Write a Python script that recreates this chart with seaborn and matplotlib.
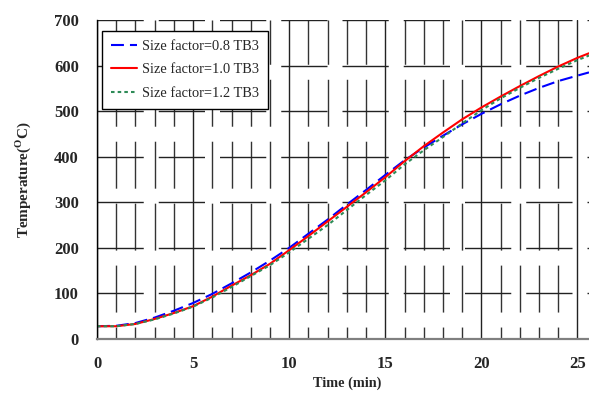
import matplotlib
matplotlib.use("Agg")
import matplotlib.pyplot as plt
import seaborn as sns
import pandas as pd
from matplotlib.ticker import MultipleLocator

# ---- data ----
time_min = [0, 1, 2, 3, 4, 5, 6, 7, 8, 9, 10, 11, 12, 13, 14, 15, 16, 17, 18,
            19, 20, 21, 22, 23, 24, 25, 25.6]
temp_08 = [28, 29, 35, 47, 62, 79, 99, 122, 146, 172, 200, 231, 262, 295, 327,
           360, 392, 420, 446, 471, 494, 515, 534, 551, 566, 578, 585]
temp_10 = [28, 28, 33, 44, 57, 72, 93, 117, 140, 165, 195, 226, 258, 290, 322,
           355, 390, 423, 453, 482, 508, 532, 555, 577, 598, 617, 627]
temp_12 = [28, 28, 33, 43, 56, 71, 91, 114, 138, 162, 190, 220, 250, 283, 316,
           348, 383, 414, 443, 473, 502, 528, 551, 573, 593, 612, 622]
series_labels = ["Size factor=0.8 TB3", "Size factor=1.0 TB3", "Size factor=1.2 TB3"]
x_ticks = [0, 5, 10, 15, 20, 25]
y_ticks = [0, 100, 200, 300, 400, 500, 600, 700]

df = pd.concat([
    pd.DataFrame({"Time": time_min, "Temp": temp_08, "Series": series_labels[0]}),
    pd.DataFrame({"Time": time_min, "Temp": temp_10, "Series": series_labels[1]}),
    pd.DataFrame({"Time": time_min, "Temp": temp_12, "Series": series_labels[2]}),
])

sns.set_theme(style="white")
plt.rcParams["font.family"] = ["Liberation Serif", "DejaVu Serif"]
plt.rcParams["mathtext.fontset"] = "custom"
plt.rcParams["mathtext.rm"] = "Liberation Serif:bold"
plt.rcParams["mathtext.bf"] = "Liberation Serif:bold"

fig = plt.figure(figsize=(5.89, 3.93), dpi=100)
ax = fig.add_axes([97 / 589, 54 / 393, 492 / 589, 319 / 393])

palette = {series_labels[0]: "#0000FF", series_labels[1]: "#FF0000", series_labels[2]: "#2E8B57"}
dashes = {series_labels[0]: (6.2, 2.9), series_labels[1]: "", series_labels[2]: (1.7, 1.5)}

sns.lineplot(data=df, x="Time", y="Temp", hue="Series", style="Series",
             palette=palette, dashes=dashes, linewidth=1.5, ax=ax, legend=True)

ax.set_xlim(0, 25.6)
ax.set_ylim(0, 700)
ax.set_xticks(x_ticks)
ax.set_yticks(y_ticks)
ax.xaxis.set_minor_locator(MultipleLocator(1))
ax.tick_params(which="both", length=0)
ax.tick_params(axis="x", pad=12)
ax.tick_params(axis="y", pad=13)
for lab in ax.get_xticklabels() + ax.get_yticklabels():
    lab.set_fontsize(12)
    lab.set_fontweight("bold")

# grid: solid major verticals, dashed minor verticals, dashed horizontals
ax.set_axisbelow(True)
ax.grid(which="major", axis="x", color="#222222", linewidth=1.0, linestyle="-")
ax.grid(which="minor", axis="x", color="#333333", linewidth=1.0,
        linestyle=(25.2, (33.8, 10.8)))
ax.grid(which="major", axis="y", color="#222222", linewidth=1.0,
        linestyle=(0, (33.3, 10.8)))

for s in ["top", "right"]:
    ax.spines[s].set_visible(False)
ax.spines["left"].set_color("#000000")
ax.spines["left"].set_linewidth(1.0)
ax.spines["bottom"].set_color("#808080")
ax.spines["bottom"].set_linewidth(1.6)

ax.set_xlabel("Time (min)", fontsize=10.3, fontweight="bold")
ax.set_ylabel(r"Temperature($^{\mathrm{O}}$C)", fontsize=10.9, fontweight="bold")
ax.xaxis.set_label_coords(0.508, -0.117)
ax.yaxis.set_label_coords(-0.130, 0.5)

leg = ax.legend(loc="upper left", bbox_to_anchor=(0.010, 0.966), borderaxespad=0,
                fontsize=10.4, frameon=True, fancybox=False, framealpha=1,
                edgecolor="black", handlelength=1.8, handletextpad=0.38,
                labelspacing=0.74, borderpad=0.6)
leg.get_frame().set_linewidth(1.0)
leg.set_title(None)

fig.savefig("out.png", dpi=100)
